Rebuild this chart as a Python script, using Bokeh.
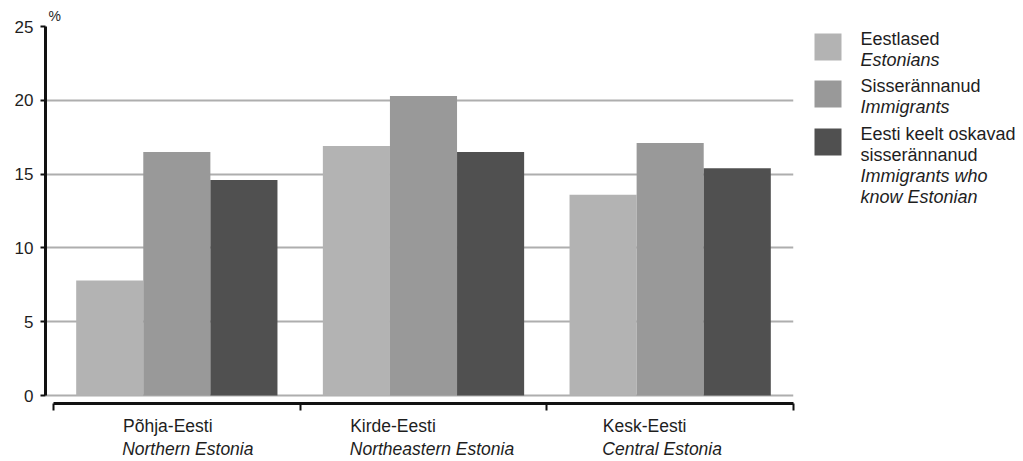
import numpy as np
from bokeh.plotting import figure
from bokeh.models import (Range1d, LinearAxis, FixedTicker, Grid, ColumnDataSource)
from bokeh.layouts import row
from bokeh.core.properties import value
from bokeh.embed import file_html
from bokeh.resources import INLINE

# ---- data ----
regions_et = ["Põhja-Eesti", "Kirde-Eesti", "Kesk-Eesti"]
regions_en = ["Northern Estonia", "Northeastern Estonia", "Central Estonia"]
series_et = ["Eestlased", "Sisserännanud", "Eesti keelt oskavad\nsisserännanud"]
series_en = ["Estonians", "Immigrants", "Immigrants who\nknow Estonian"]
estonians = [7.8, 16.9, 13.6]
immigrants = [16.5, 20.3, 17.1]
immigrants_est = [14.6, 16.5, 15.4]
y_ticks = [0, 5, 10, 15, 20, 25]

# ---- styles ----
FONT = "Liberation Sans"
TXT = "#1e1e1e"
colors = ["#b3b3b3", "#999999", "#505050"]
bar_w = 0.272
TOP, FH, BOTTOM = 26, 377, 56
PX_PER_UNIT = 748 / 3.0324
# category label blocks are left-aligned: left edge offset from category centre (px)
label_left_dx = [-54, -73, -67]
# approximate rendered widths of the two label lines (px) to centre them from the left edge
w_line1 = [90, 85, 83]
w_line2 = [130, 163, 118]

p = figure(width=808, height=TOP + FH + BOTTOM, frame_width=748, frame_height=FH,
           x_range=Range1d(-0.0324, 3.0), y_range=Range1d(-0.54, 25.0),
           x_axis_location=None, y_axis_location=None,
           output_backend="svg", toolbar_location=None,
           min_border_left=45, min_border_top=TOP, min_border_right=15,
           min_border_bottom=BOTTOM)
p.outline_line_color = None
p.background_fill_color = "white"
p.border_fill_color = "white"
p.xgrid.visible = False
p.ygrid.visible = False

# unit label as title
p.title.text = "%"
p.title.align = "left"
p.title.offset = 3
p.title.standoff = 5
p.title.text_font = FONT
p.title.text_font_size = "14px"
p.title.text_font_style = "normal"
p.title.text_color = TXT

# grid lines
grid = Grid(dimension=1, ticker=FixedTicker(ticks=y_ticks), bounds=(0, 3),
            grid_line_color="#aeaeae", grid_line_width=2)
p.add_layout(grid)

# bars
idx = np.arange(len(regions_et)) + 0.5
for k, (vals, col) in enumerate(zip([estonians, immigrants, immigrants_est], colors)):
    src = ColumnDataSource(dict(x=idx + (k - 1) * bar_w, top=vals))
    p.vbar(x="x", top="top", bottom=0, width=bar_w, source=src,
           fill_color=col, line_color=None)

# y axis
yax = LinearAxis(ticker=FixedTicker(ticks=y_ticks), bounds=(0, 25))
yax.axis_line_width = 3
yax.axis_line_color = "#111111"
yax.major_tick_line_width = 2
yax.major_tick_line_color = "#111111"
yax.major_tick_out = 5
yax.major_tick_in = 0
yax.minor_tick_line_color = None
yax.major_label_standoff = 7
yax.major_label_text_font = FONT
yax.major_label_text_font_size = "17px"
yax.major_label_text_color = TXT
p.add_layout(yax, "left")

# label tick positions (centres of each left-aligned line)
t1 = [float(c + (dx + w / 2) / PX_PER_UNIT) for c, dx, w in zip(idx, label_left_dx, w_line1)]
t2 = [float(c + (dx + w / 2) / PX_PER_UNIT) for c, dx, w in zip(idx, label_left_dx, w_line2)]

# x axis (regular labels)
xa = LinearAxis(ticker=FixedTicker(ticks=t1, minor_ticks=[0, 1, 2, 3]), bounds=(0, 3))
xa.axis_line_width = 3
xa.axis_line_color = "#111111"
xa.major_tick_line_color = None
xa.major_tick_out = 0
xa.major_tick_in = 0
xa.minor_tick_line_color = "#111111"
xa.minor_tick_line_width = 2
xa.minor_tick_out = 7
xa.minor_tick_in = 0
xa.major_label_standoff = 5
xa.major_label_overrides = {t: s for t, s in zip(t1, regions_et)}
xa.major_label_text_font = FONT
xa.major_label_text_font_size = "17.5px"
xa.major_label_text_color = TXT
p.add_layout(xa, "below")

# x axis (italic labels)
xb = LinearAxis(ticker=FixedTicker(ticks=t2), bounds=(0, 3))
xb.axis_line_color = None
xb.major_tick_line_color = None
xb.minor_tick_line_color = None
xb.major_tick_out = 0
xb.major_tick_in = 0
xb.major_label_standoff = 0
xb.major_label_overrides = {t: s for t, s in zip(t2, regions_en)}
xb.major_label_text_font = FONT
xb.major_label_text_font_size = "17.5px"
xb.major_label_text_font_style = "italic"
xb.major_label_text_color = TXT
p.add_layout(xb, "below")

# ---- legend panel (coordinates in page pixels) ----
lg = figure(width=207, height=TOP + FH + BOTTOM, frame_width=207, frame_height=FH,
            x_range=Range1d(808, 1015), y_range=Range1d(TOP + FH, TOP),
            output_backend="svg", toolbar_location=None,
            min_border_left=0, min_border_right=0, min_border_top=TOP,
            min_border_bottom=BOTTOM,
            x_axis_location=None, y_axis_location=None)
lg.outline_line_color = None
lg.xgrid.visible = False
lg.ygrid.visible = False

sw_top = [33, 80, 128]
sw_size = 27
lg.rect(x=[827.5] * 3, y=[t + sw_size / 2 for t in sw_top], width=sw_size, height=sw_size,
        fill_color=colors, line_color=None)

reg_lines, reg_y, it_lines, it_y = [], [], [], []
line_h = 21.3
for k in range(3):
    y0 = sw_top[k] + 5
    et = series_et[k].split("\n")
    en = series_en[k].split("\n")
    for j, s in enumerate(et):
        reg_lines.append(s); reg_y.append(y0 + j * line_h)
    for j, s in enumerate(en):
        it_lines.append(s); it_y.append(y0 + (len(et) + j) * line_h)

lg.text(x=[860] * len(reg_lines), y=reg_y, text=reg_lines, text_font=value(FONT),
        text_font_size="18px", text_color=TXT, text_baseline="middle")
lg.text(x=[860] * len(it_lines), y=it_y, text=it_lines, text_font=value(FONT),
        text_font_size="18px", text_color=TXT, text_baseline="middle",
        text_font_style="italic")

layout = row(p, lg, spacing=0)
open("out.html", "w").write(file_html(layout, INLINE))
